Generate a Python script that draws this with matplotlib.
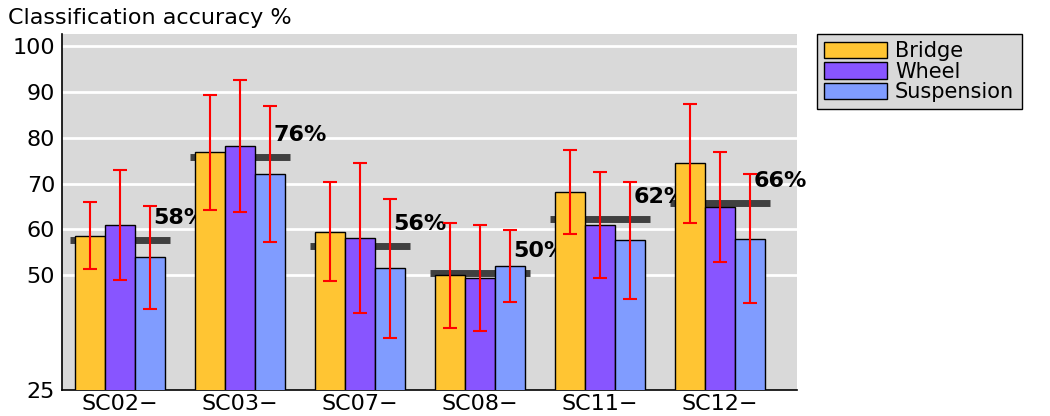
import numpy as np
import matplotlib
matplotlib.use("Agg")
import matplotlib.pyplot as plt

plt.rcParams['font.family'] = ['DejaVu Sans']

# scenarios and mean accuracy per model
scenarios = ['SC02−', 'SC03−', 'SC07−', 'SC08−', 'SC11−', 'SC12−']
series = ['Bridge', 'Wheel', 'Suspension']
colors = ['#FFC533', '#8855FF', '#809CFF']

bridge = [58.6, 76.8, 59.5, 50.0, 68.2, 74.4]
wheel = [61.0, 78.2, 58.2, 49.5, 61.0, 64.9]
suspension = [53.9, 72.0, 51.5, 52.0, 57.6, 58.0]

bridge_err = [7.3, 12.6, 10.8, 11.5, 9.15, 12.9]
wheel_err = [12.05, 14.3, 16.35, 11.55, 11.5, 11.9]
suspension_err = [11.2, 14.8, 15.2, 7.85, 12.7, 14.05]

# overall accuracy per scenario (dark bar) and its label
overall = [57.8, 75.7, 56.4, 50.6, 62.3, 65.8]
overall_labels = ['58%', '76%', '56%', '50%', '62%', '66%']

values = [bridge, wheel, suspension]
errors = [bridge_err, wheel_err, suspension_err]

fig = plt.figure(figsize=(10.5, 4.16), dpi=100)
ax = fig.add_axes([62/1050, 26/416, 735/1050, 356/416])
ax.set_facecolor('#D9D9D9')

x = np.arange(len(scenarios))
w = 0.25

# overall lines and labels sit behind the bars
ax.hlines(overall, x - 0.4167, x + 0.4167, colors='#404040', linewidth=5, zorder=2)
for xi, v, lab in zip(x, overall, overall_labels):
    ax.text(xi + 0.275, v + 4.8, lab, fontsize=16, fontweight='bold',
            va='center', ha='left', zorder=2.5)

for k in range(3):
    ax.bar(x + (k - 1) * w, values[k], w, color=colors[k], edgecolor='black',
           linewidth=1, label=series[k], zorder=3)
    ax.errorbar(x + (k - 1) * w, values[k], yerr=errors[k], fmt='none',
                ecolor='red', elinewidth=1.5, capsize=5, capthick=1.5, zorder=4)

for g in [50, 60, 70, 80, 90, 100]:
    ax.axhline(g, color='white', linewidth=2, zorder=1)

ax.set_ylim(25, 102.6)
ax.set_xlim(-0.483, 5.64)
ax.set_yticks([25, 50, 60, 70, 80, 90, 100])
ax.set_xticks(x)
ax.set_xticklabels(scenarios, fontsize=16)
ax.tick_params(axis='y', length=0, labelsize=16, pad=5)
ax.tick_params(axis='x', length=0, pad=3)
for s in ['top', 'right']:
    ax.spines[s].set_visible(False)
ax.spines['left'].set_linewidth(1.2)
ax.spines['bottom'].set_linewidth(1.2)

fig.text(8/1050, 1 - 23.5/416, 'Classification accuracy %', fontsize=16,
         va='baseline', ha='left')

leg = fig.legend(loc='upper left', bbox_to_anchor=(817/1050, 1 - 34/416),
                 fontsize=15, handlelength=3.0, handleheight=0.82,
                 labelspacing=0.02, handletextpad=0.4, borderpad=0.35,
                 borderaxespad=0, fancybox=False, framealpha=1)
leg.get_frame().set_facecolor('#D9D9D9')
leg.get_frame().set_edgecolor('black')
leg.get_frame().set_linewidth(1)

fig.savefig('out.png', dpi=100)
